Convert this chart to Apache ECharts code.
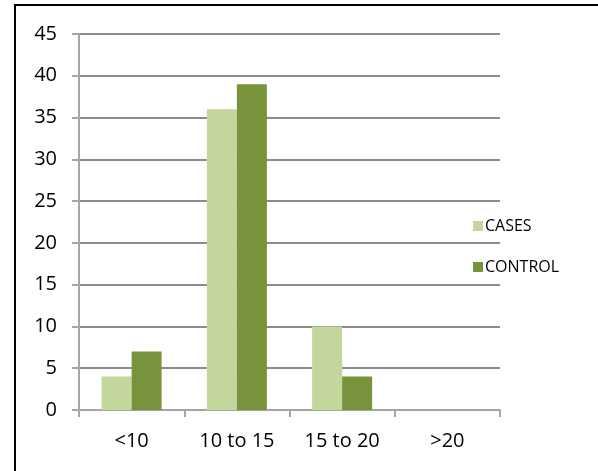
<!DOCTYPE html>
<html>
<head>
<meta charset="utf-8">
<script src="https://cdn.jsdelivr.net/npm/echarts@6.0.0/dist/echarts.min.js"></script>
<style>
  html, body { margin: 0; padding: 0; background: #fff; }
  #frame {
    position: absolute; left: 14px; top: 4px; width: 600px; height: 465px;
    border-left: 2px solid #000; border-top: 2px solid #000;
    border-bottom: 1px solid #d9d9d9;
  }
  #chart { position: absolute; left: 0; top: 0; width: 598px; height: 471px; }
</style>
</head>
<body>
<div id="frame"></div>
<div id="chart"></div>
<script>
  // data
  const categories = ['<10', '10 to 15', '15 to 20', '>20'];
  const casesValues = [4, 36, 10, 0];
  const controlValues = [7, 39, 4, 0];

  const FONT = "'Open Sans', 'Noto Sans', sans-serif";
  const GRID_GREY = '#8c8c8c';
  const AXIS_GREY = '#a6a6a6';

  const chart = echarts.init(document.getElementById('chart'), null, { renderer: 'canvas' });

  chart.setOption({
    animation: false,
    textStyle: { fontFamily: FONT },
    grid: { left: 79, right: 98, top: 34, bottom: 61, containLabel: false },
    legend: {
      orient: 'vertical',
      left: 468,
      top: 213,
      itemWidth: 10,
      itemHeight: 10,
      itemGap: 25,
      icon: 'rect',
      textStyle: { fontFamily: FONT, fontSize: 16, color: '#000', padding: [0, 0, 0, -3] },
      data: ['CASES', 'CONTROL']
    },
    xAxis: {
      type: 'category',
      data: categories,
      axisLine: { show: true, lineStyle: { color: AXIS_GREY, width: 2 } },
      axisTick: { show: true, length: 7, lineStyle: { color: AXIS_GREY, width: 2 } },
      axisLabel: { color: '#000', fontSize: 20, margin: 21, fontFamily: FONT },
      splitLine: { show: false }
    },
    yAxis: {
      type: 'value',
      min: 0,
      max: 45,
      interval: 5,
      axisLine: { show: true, lineStyle: { color: AXIS_GREY, width: 2 } },
      axisTick: { show: true, inside: false, length: 7, lineStyle: { color: AXIS_GREY, width: 2 } },
      axisLabel: { color: '#000', fontSize: 20, margin: 22, fontFamily: FONT },
      splitLine: { show: true, lineStyle: { color: GRID_GREY, width: 2 } }
    },
    series: [
      {
        name: 'CASES',
        type: 'bar',
        data: casesValues,
        barWidth: 30,
        barGap: '0%',
        itemStyle: { color: '#c3d69b' }
      },
      {
        name: 'CONTROL',
        type: 'bar',
        data: controlValues,
        barWidth: 30,
        barGap: '0%',
        itemStyle: { color: '#77933c' }
      }
    ]
  });
</script>
</body>
</html>
